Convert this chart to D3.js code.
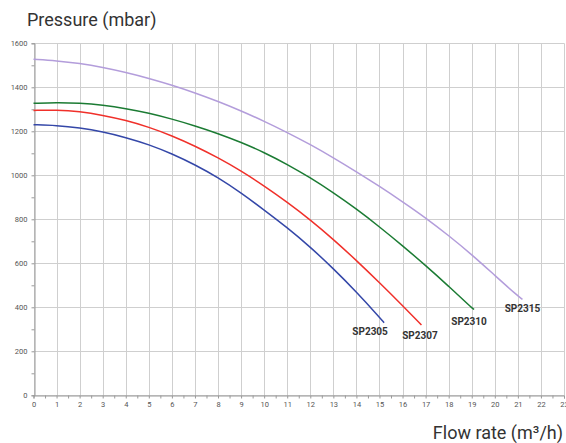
<!DOCTYPE html>
<html>
<head>
<meta charset="utf-8">
<script src="https://cdn.jsdelivr.net/npm/d3@7"></script>
<style>
  html, body { margin: 0; padding: 0; background: #fff; }
  svg { display: block; font-family: Roboto, "Noto Sans", sans-serif; }
</style>
</head>
<body>
<svg id="chart" width="566" height="443"></svg>
<script>
// ---- Data ----
const seriesNames = ["SP2305", "SP2307", "SP2310", "SP2315"];
const flowSP2305 = [0, 1, 2, 3, 4, 5, 6, 7, 8, 9, 10, 11, 12, 13, 14, 15, 15.2];
const presSP2305 = [1230, 1227, 1216, 1198, 1172, 1140, 1098, 1048, 990, 920, 842, 762, 674, 576, 470, 355, 330];
const flowSP2307 = [0, 1, 2, 3, 4, 5, 6, 7, 8, 9, 10, 11, 12, 13, 14, 15, 16, 16.82];
const presSP2307 = [1295, 1297, 1290, 1273, 1250, 1219, 1180, 1133, 1080, 1020, 952, 878, 798, 709, 613, 512, 408, 320];
const flowSP2310 = [0, 1, 2, 3, 4, 5, 6, 7, 8, 9, 10, 11, 12, 13, 14, 15, 16, 17, 18, 19, 19.1];
const presSP2310 = [1327, 1331, 1328, 1319, 1304, 1283, 1256, 1225, 1190, 1150, 1104, 1050, 989, 921, 847, 766, 680, 590, 496, 398, 390];
const flowSP2315 = [0, 1, 2, 3, 4, 5, 6, 7, 8, 9, 10, 11, 12, 13, 14, 15, 16, 17, 18, 19, 20, 21, 21.2];
const presSP2315 = [1527, 1521, 1509, 1491, 1468, 1441, 1410, 1375, 1336, 1293, 1246, 1195, 1140, 1080, 1016, 950, 880, 807, 726, 640, 545, 451, 436];
const xTickValues = d3.range(0, 24, 1);
const yTickValues = [0, 200, 400, 600, 800, 1000, 1200, 1400, 1600];
const yTitle = "Pressure (mbar)";
const xTitle = "Flow rate (m³/h)";

// ---- Styles ----
const colors = ["#3447a8", "#f0302a", "#1b7b33", "#b39ddb"];
const labelOffsets = [[-14, 12.5], [-1.5, 14.5], [-5, 15.5], [0, 12.5]];

const series = [
  flowSP2305.map((f, i) => [f, presSP2305[i]]),
  flowSP2307.map((f, i) => [f, presSP2307[i]]),
  flowSP2310.map((f, i) => [f, presSP2310[i]]),
  flowSP2315.map((f, i) => [f, presSP2315[i]])
];

const svg = d3.select("#chart");
const x = d3.scaleLinear().domain([0, 23]).range([33.5, 564]);
const y = d3.scaleLinear().domain([0, 1600]).range([395.3, 43.3]);

// grid
const grid = svg.append("g");
grid.selectAll("line.v").data(xTickValues).enter().append("line")
  .attr("x1", d => Math.round(x(d)) + 0.5).attr("x2", d => Math.round(x(d)) + 0.5)
  .attr("y1", y(0)).attr("y2", y(1600))
  .attr("stroke", "#cfcfcf").attr("stroke-width", 1);
grid.selectAll("line.h").data(yTickValues).enter().append("line")
  .attr("x1", x(0)).attr("x2", x(23))
  .attr("y1", d => Math.round(y(d)) + 0.5).attr("y2", d => Math.round(y(d)) + 0.5)
  .attr("stroke", "#cfcfcf").attr("stroke-width", 1);

// axes
const yAxis = d3.axisLeft(y).tickValues(d3.range(0, 1601, 100)).tickSize(3)
  .tickFormat(d => d % 200 === 0 ? d : "");
const gy = svg.append("g").attr("transform", `translate(${Math.round(x(0)) + 0.5},0)`).call(yAxis);
gy.select(".domain").attr("stroke", "#9a9a9a");
gy.selectAll(".tick line").attr("stroke", "#9a9a9a");
gy.selectAll(".tick text").attr("fill", "#555").style("font-size", "7.5px").attr("x", -7)
  .style("font-family", "Roboto, sans-serif");

const xAxis = d3.axisBottom(x).tickValues(d3.range(0, 23.01, 0.5)).tickSize(3)
  .tickFormat(d => Number.isInteger(d) ? d : "");
const gx = svg.append("g").attr("transform", `translate(0,${Math.round(y(0)) + 0.5})`).call(xAxis);
gx.select(".domain").attr("stroke", "#9a9a9a");
gx.selectAll(".tick line").attr("stroke", "#9a9a9a");
gx.selectAll(".tick text").attr("fill", "#555").style("font-size", "7.5px").attr("y", 6)
  .style("font-family", "Roboto, sans-serif");

// lines
const line = d3.line().x(d => x(d[0])).y(d => y(d[1])).curve(d3.curveBasis);
svg.append("g").selectAll("path").data(series).enter().append("path")
  .attr("d", line).attr("fill", "none")
  .attr("stroke", (d, i) => colors[i]).attr("stroke-width", 1.5);

// end labels
svg.append("g").selectAll("text").data(series).enter().append("text")
  .attr("x", (d, i) => x(d[d.length - 1][0]) + labelOffsets[i][0])
  .attr("y", (d, i) => y(d[d.length - 1][1]) + labelOffsets[i][1])
  .attr("text-anchor", "middle")
  .attr("fill", "#333").style("font-size", "10px").style("font-weight", "bold")
  .text((d, i) => seriesNames[i]);

// titles
svg.append("text").attr("x", 27).attr("y", 26).attr("fill", "#333")
  .style("font-size", "18px").text(yTitle);
svg.append("text").attr("x", 563).attr("y", 438.5).attr("text-anchor", "end").attr("fill", "#333")
  .style("font-size", "18px").text(xTitle);
</script>
</body>
</html>
